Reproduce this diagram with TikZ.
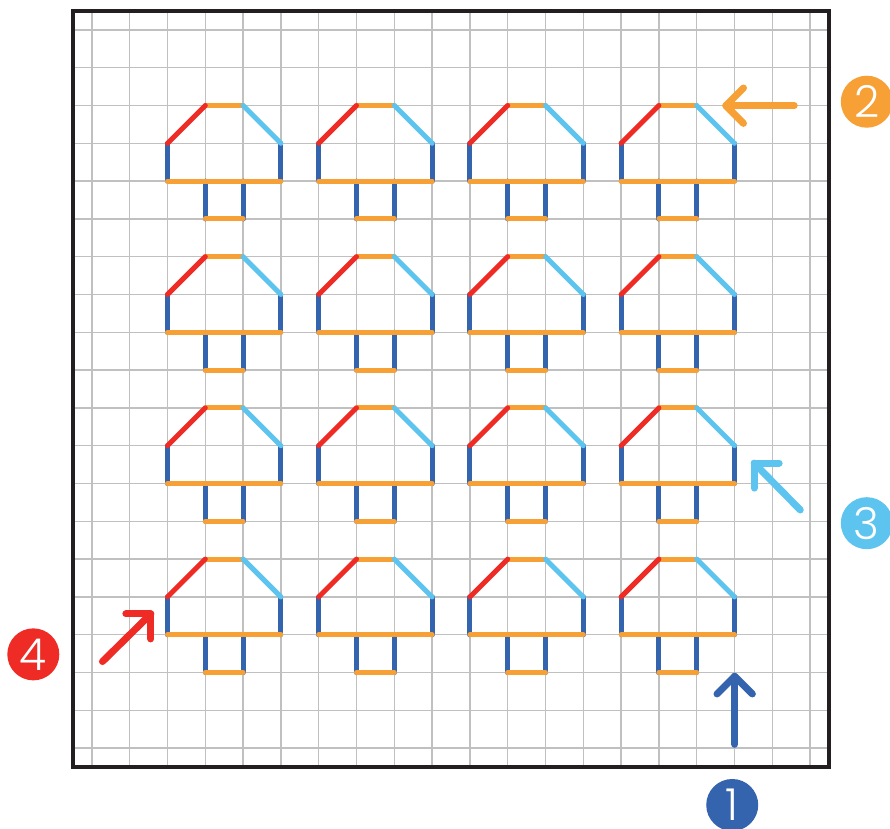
\documentclass[tikz,border=0pt]{standalone}
\usepackage{fontspec}
\newfontfamily\numfont{Poppins}[UprightFont={* Light}]
\definecolor{cblue}{RGB}{53,100,175}
\definecolor{corange}{RGB}{247,160,53}
\definecolor{ccyan}{RGB}{92,196,239}
\definecolor{cred}{RGB}{238,43,37}
\definecolor{cgrid}{RGB}{192,192,192}
\definecolor{cborder}{RGB}{35,31,32}
\begin{document}
\begin{tikzpicture}[x=37.8pt,y=-37.8pt,
  gridline/.style={draw=cgrid,line width=1.5pt},
  frame/.style={draw=cborder,line width=4pt},
  seg/.style={line width=5pt,line cap=round,line join=round},
  arrowline/.style={line width=7pt,line cap=round,line join=round},
  badge/.style={circle,minimum size=52pt,inner sep=0pt,text=white,
    font=\numfont\fontsize{44}{44}\selectfont}]
\useasboundingbox (-1.9312,-0.2910) rectangle (21.6138,21.6402);
% grid
\foreach \i in {0,...,19}{
  \draw[gridline] (\i+0.5,0) -- (\i+0.5,20);
  \draw[gridline] (0,\i+0.5) -- (20,\i+0.5);
}
\draw[frame] (0,0) rectangle (20,20);
% mushrooms
\foreach \c in {0,...,3}{
  \foreach \r in {0,...,3}{
    \begin{scope}[shift={(2.5+4*\c,2.5+4*\r)}]
      \draw[seg,cblue] (0,1) -- (0,2) (3,1) -- (3,2) (1,2) -- (1,3) (2,2) -- (2,3);
      \draw[seg,corange] (1,0) -- (2,0) (0,2) -- (3,2) (1,3) -- (2,3);
      \draw[seg,cred] (0,1) -- (1,0);
      \draw[seg,ccyan] (2,0) -- (3,1);
    \end{scope}
  }
}
% arrows
\coordinate (t1) at (17.505,19.40);
\coordinate (h1) at (17.505,17.60);
\coordinate (t2) at (19.08,2.505);
\coordinate (h2) at (17.27,2.505);
\coordinate (t3) at (19.24,13.20);
\coordinate (h3) at (18.02,11.96);
\coordinate (t4) at (0.78,17.21);
\coordinate (h4) at (2.06,15.95);
\draw[arrowline,cblue] (t1) -- (h1);
\draw[arrowline,cblue] (h1) ++(-135:25pt) -- (h1) -- ++(-45:25pt);
\draw[arrowline,corange] (t2) -- (h2);
\draw[arrowline,corange] (h2) ++(45:25pt) -- (h2) -- ++(-45:25pt);
\draw[arrowline,ccyan] (t3) -- (h3);
\draw[arrowline,ccyan] (h3) ++(0:25pt) -- (h3) -- ++(-90:25pt);
\draw[arrowline,cred] (t4) -- (h4);
\draw[arrowline,cred] (h4) ++(180:25pt) -- (h4) -- ++(-90:25pt);
% badges
\node[badge,fill=cblue] (n1) at (17.44,21.005) {1};
\node[badge,fill=corange] (n2) at (21.0,2.40) {2};
\node[badge,fill=ccyan] (n3) at (21.0,13.55) {3};
\node[badge,fill=cred] (n4) at (-1.05,17.02) {4};
\end{tikzpicture}
\end{document}
